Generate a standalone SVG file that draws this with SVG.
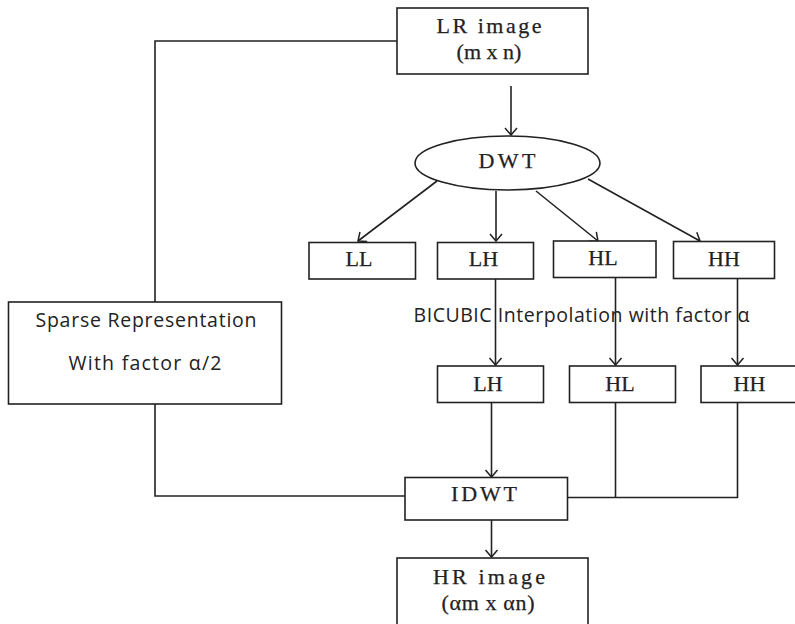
<svg xmlns="http://www.w3.org/2000/svg" width="795" height="624" viewBox="0 0 795 624">
<defs>
<marker id="ah" markerUnits="userSpaceOnUse" markerWidth="16" markerHeight="16" refX="8" refY="8" orient="auto">
<path d="M1,2 L8,8 L1,14" fill="none" stroke="#222" stroke-width="1.5"/>
</marker>
<style>
.box{fill:#fff;stroke:#222;stroke-width:1.6}
.ln{fill:none;stroke:#222;stroke-width:1.6}
.arr{fill:none;stroke:#222;stroke-width:1.6;marker-end:url(#ah)}
.sf{font-family:"Liberation Serif","DejaVu Serif",serif;font-size:22px;fill:#222;stroke:#222;stroke-width:0.25;text-anchor:middle}
.ss{font-family:"Open Sans","Liberation Sans",sans-serif;font-size:19.5px;fill:#222;text-anchor:middle}
</style>
</defs>
<rect width="795" height="624" fill="#fff"/>
<g id="connectors">
<polyline class="ln" points="397,41 155,41 155,302"/>
<line class="arr" x1="511" y1="86" x2="511" y2="135"/>
<line class="arr" x1="437" y1="181" x2="358" y2="241"/>
<line class="arr" x1="496" y1="191" x2="496" y2="241"/>
<line class="arr" x1="536" y1="191" x2="598" y2="241"/>
<line class="arr" x1="588" y1="179" x2="700" y2="241"/>
<line class="arr" x1="495.5" y1="279" x2="495.5" y2="365"/>
<line class="arr" x1="615.5" y1="278" x2="615.5" y2="365"/>
<line class="arr" x1="737.5" y1="279" x2="737.5" y2="365"/>
<line class="arr" x1="491.5" y1="403" x2="491.5" y2="477"/>
<polyline class="ln" points="615.5,403 615.5,497.5"/>
<polyline class="ln" points="737.5,403 737.5,497.5 568,497.5"/>
<polyline class="ln" points="155,404 155,496 405,496"/>
<line class="arr" x1="491.5" y1="520" x2="491.5" y2="557"/>
</g>
<g id="lr-image">
<rect class="box" x="397" y="8" width="191" height="66"/>
<text class="sf" x="489" y="33" textLength="105">LR image</text>
<text class="sf" x="489" y="59">(m x n)</text>
</g>
<g id="dwt">
<ellipse class="box" cx="507.5" cy="163" rx="92.5" ry="27"/>
<text class="sf" x="507" y="168" textLength="57">DWT</text>
</g>
<g id="ll">
<rect class="box" x="309" y="242.5" width="106.5" height="36.5"/>
<text class="sf" x="359" y="266">LL</text>
</g>
<g id="lh">
<rect class="box" x="437.5" y="242.5" width="96" height="36.5"/>
<text class="sf" x="483.5" y="266">LH</text>
</g>
<g id="hl">
<rect class="box" x="553.5" y="241" width="102.5" height="36.5"/>
<text class="sf" x="603" y="265">HL</text>
</g>
<g id="hh">
<rect class="box" x="673.5" y="241.5" width="101" height="37"/>
<text class="sf" x="724" y="266">HH</text>
</g>
<g id="bicubic-label">
<text class="ss" x="581.5" y="321.5" textLength="336">BICUBIC Interpolation with factor α</text>
</g>
<g id="sparse">
<rect class="box" x="8.5" y="302" width="273" height="102"/>
<text class="ss" x="146" y="326.5" textLength="221">Sparse Representation</text>
<text class="ss" x="145" y="370" textLength="153">With factor α/2</text>
</g>
<g id="lh2">
<rect class="box" x="437.5" y="366" width="106" height="36.5"/>
<text class="sf" x="488" y="390.5">LH</text>
</g>
<g id="hl2">
<rect class="box" x="569.5" y="366" width="106" height="36.5"/>
<text class="sf" x="620" y="390.5">HL</text>
</g>
<g id="hh2">
<rect class="box" x="701" y="366" width="100" height="36.5"/>
<text class="sf" x="749.5" y="390.5">HH</text>
</g>
<g id="idwt">
<rect class="box" x="405" y="477.5" width="162.5" height="42.5"/>
<text class="sf" x="484" y="501" textLength="66">IDWT</text>
</g>
<g id="hr-image">
<rect class="box" x="397" y="558" width="191" height="70"/>
<text class="sf" x="489" y="583.5" textLength="112">HR image</text>
<text class="sf" x="488" y="610" textLength="93">(αm x αn)</text>
</g>
</svg>
